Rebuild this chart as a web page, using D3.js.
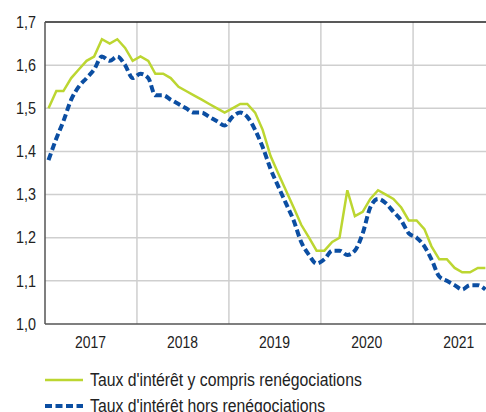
<!DOCTYPE html>
<html>
<head>
<meta charset="utf-8">
<script src="https://cdn.jsdelivr.net/npm/d3@7"></script>
<style>
  body { margin: 0; background: #fff; }
  svg text { font-family: "Liberation Sans", Arial, sans-serif; fill: #222; }
</style>
</head>
<body>
<div id="chart"></div>
<script>
// monthly series, Jan 2017 - Oct 2021
var startYear = 2017;
var avecReneg = [1.50, 1.54, 1.54, 1.57, 1.59, 1.61, 1.62, 1.66, 1.65, 1.66, 1.64, 1.61,
                 1.62, 1.61, 1.58, 1.58, 1.57, 1.55, 1.54, 1.53, 1.52, 1.51, 1.50, 1.49,
                 1.50, 1.51, 1.51, 1.49, 1.45, 1.39, 1.35, 1.31, 1.27, 1.23, 1.20, 1.17,
                 1.17, 1.19, 1.20, 1.31, 1.25, 1.26, 1.29, 1.31, 1.30, 1.29, 1.27, 1.24,
                 1.24, 1.22, 1.18, 1.15, 1.15, 1.13, 1.12, 1.12, 1.13, 1.13];
var horsReneg = [1.38, 1.43, 1.47, 1.52, 1.55, 1.57, 1.59, 1.62, 1.61, 1.62, 1.60, 1.57,
                 1.58, 1.57, 1.53, 1.53, 1.52, 1.51, 1.50, 1.49, 1.49, 1.48, 1.47, 1.46,
                 1.48, 1.49, 1.48, 1.45, 1.41, 1.36, 1.32, 1.28, 1.24, 1.19, 1.16, 1.14,
                 1.15, 1.17, 1.17, 1.16, 1.17, 1.21, 1.27, 1.29, 1.28, 1.26, 1.24, 1.21,
                 1.20, 1.18, 1.15, 1.11, 1.10, 1.09, 1.08, 1.09, 1.09, 1.08];
var years = [2017, 2018, 2019, 2020, 2021];
var yTicks = [1.0, 1.1, 1.2, 1.3, 1.4, 1.5, 1.6, 1.7];
var seriesNames = ["Taux d'intérêt y compris renégociations", "Taux d'intérêt hors renégociations"];

var W = 486, H = 412;
var mLeft = 45, mTop = 22, mBottom = 324;

var svg = d3.select("#chart").append("svg")
    .attr("width", W)
    .attr("height", H);

var x = d3.scaleTime()
    .domain([new Date(2017, 0, 1), new Date(2021, 10, 1)])
    .range([mLeft, mLeft + 92 * 58 / 12]);
var y = d3.scaleLinear()
    .domain([1.0, 1.7])
    .range([mBottom, mTop]);

var mid = function(i){ return new Date(startYear, i, 15); };

// the source font is a narrow one, squeeze the glyphs a bit
var narrow = function(sel, k){
    sel.each(function(){
        var len = this.getComputedTextLength();
        d3.select(this).attr("textLength", len * k).attr("lengthAdjust", "spacingAndGlyphs");
    });
};

// grid
svg.selectAll(".hgrid")
    .data(yTicks.slice(1, -1))
    .enter().append("line")
    .attr("x1", mLeft).attr("x2", W)
    .attr("y1", function(d){ return y(d); })
    .attr("y2", function(d){ return y(d); })
    .style("stroke", "#cfcfcf").style("stroke-width", 1.5);

svg.selectAll(".vgrid")
    .data(years.slice(1))
    .enter().append("line")
    .attr("x1", function(d){ return x(new Date(d, 0, 1)); })
    .attr("x2", function(d){ return x(new Date(d, 0, 1)); })
    .attr("y1", mTop).attr("y2", mBottom)
    .style("stroke", "#cfcfcf").style("stroke-width", 1.5);

// frame
svg.append("line").attr("x1", mLeft).attr("x2", W).attr("y1", mTop).attr("y2", mTop)
    .style("stroke", "#222").style("stroke-width", 1.5);
svg.append("line").attr("x1", mLeft).attr("x2", mLeft).attr("y1", mTop).attr("y2", mBottom)
    .style("stroke", "#555").style("stroke-width", 1.5);
svg.append("line").attr("x1", mLeft).attr("x2", W).attr("y1", mBottom).attr("y2", mBottom)
    .style("stroke", "#555").style("stroke-width", 1.5);

// y labels
svg.selectAll(".ylab")
    .data(yTicks)
    .enter().append("text")
    .attr("x", 36)
    .attr("y", function(d){ return y(d); })
    .attr("dy", "0.35em")
    .attr("text-anchor", "end")
    .style("font-size", "16.5px")
    .text(function(d){ return d3.format(".1f")(d).replace(".", ","); })
    .call(narrow, 0.87);

// x labels
svg.selectAll(".xlab")
    .data(years)
    .enter().append("text")
    .attr("x", function(d){ return x(new Date(d, 6, 1)); })
    .attr("y", 342)
    .attr("dy", "0.35em")
    .attr("text-anchor", "middle")
    .style("font-size", "16px")
    .text(function(d){ return d; })
    .call(narrow, 0.87);

// lines
var lineLin = d3.line()
    .x(function(d, i){ return x(mid(i)); })
    .y(function(d){ return y(d); });
var lineSmooth = d3.line()
    .curve(d3.curveMonotoneX)
    .x(function(d, i){ return x(mid(i)); })
    .y(function(d){ return y(d); });

svg.append("path")
    .datum(avecReneg)
    .attr("d", lineLin)
    .style("fill", "none")
    .style("stroke", "#bcd631")
    .style("stroke-width", 2.5);

svg.append("path")
    .datum(horsReneg)
    .attr("d", lineSmooth)
    .style("fill", "none")
    .style("stroke", "#0b4ea2")
    .style("stroke-width", 4)
    .style("stroke-dasharray", "7,3.5");

// legend
var legend = svg.selectAll(".legend")
    .data(seriesNames)
    .enter().append("g")
    .attr("transform", function(d, i){ return "translate(0," + (380 + i * 26) + ")"; });

legend.append("line")
    .attr("x1", 45).attr("x2", 83)
    .attr("y1", 0).attr("y2", 0)
    .style("stroke", function(d, i){ return i == 0 ? "#bcd631" : "#0b4ea2"; })
    .style("stroke-width", function(d, i){ return i == 0 ? 2.5 : 4; })
    .style("stroke-dasharray", function(d, i){ return i == 0 ? null : "7,3.5"; });

legend.append("text")
    .attr("x", 90).attr("y", 0)
    .attr("dy", "0.35em")
    .style("font-size", "17.5px")
    .text(function(d){ return d; })
    .call(narrow, 0.9);
</script>
</body>
</html>
